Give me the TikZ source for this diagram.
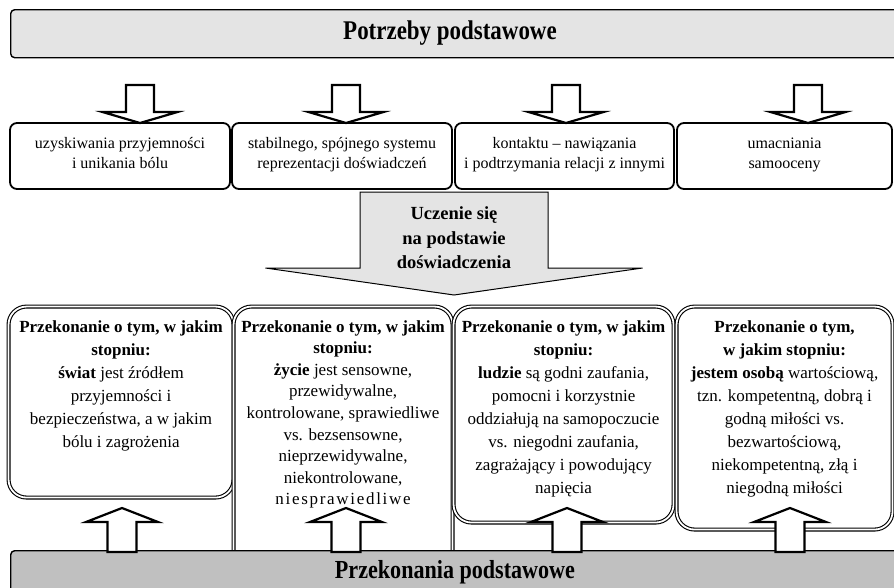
\documentclass[tikz,border=0pt]{standalone}
\usepackage{fontspec}
\setmainfont{Liberation Serif}
\newfontfamily\headfont[FakeStretch=0.85]{Liberation Serif}
\usetikzlibrary{positioning}

\definecolor{barlight}{HTML}{E4E4E4}
\definecolor{bardark}{HTML}{C0C0C0}

% [style]{x}{tail y}{wing y}{tip y}{half shaft}{half head}
\newcommand{\blockarrow}[7][]{%
	\draw[#1] ({#2-#6},#3) -- ({#2-#6},#4) -- ({#2-#7},#4) -- (#2,#5)
		-- ({#2+#7},#4) -- ({#2+#6},#4) -- ({#2+#6},#3) -- cycle;}

\tikzset{
	bar/.style={draw, line width=1.4pt, rounded corners=4pt, fill=#1, minimum width=900pt, anchor=north west},
	need/.style={draw, line width=1.8pt, rounded corners=7pt, fill=white, minimum height=66pt, align=center, font=\fontsize{16}{20}\selectfont, execute at begin node=\strut, execute at end node=\strut},
	belief/.style={draw, line width=1.1pt, double=white, double distance=1.8pt, rounded corners=18pt, fill=white, anchor=north west},
	belieftext/.style={align=center, inner sep=0pt, anchor=north},
	hollow/.style={draw, fill=white, line width=2.2pt}
}

\begin{document}
\begin{tikzpicture}[x=1pt, y=-1pt]
	\useasboundingbox (0,0) rectangle (894,587);

	\node[bar=barlight, minimum height=48pt] (needs) at (10,9) {};
	\node[font=\fontsize{27}{30}\headfont\bfseries] (needsT) at (450,33) {Potrzeby podstawowe};

	\node[need, minimum width=220pt] (n1) at (120,156) {uzyskiwania przyjemności\\i unikania bólu};
	\node[need, minimum width=220pt] (n2) at (342,156) {stabilnego, spójnego systemu\\reprezentacji doświadczeń};
	\node[need, minimum width=219pt] (n3) at (564.5,156) {kontaktu – nawiązania\\i podtrzymania relacji z innymi};
	\node[need, minimum width=215pt] (n4) at (784.5,156) {umacniania\\samooceny};

	\blockarrow[hollow]{140}{85}{112}{123}{14}{37.5}
	\blockarrow[hollow]{346}{85}{112}{123}{14}{37.5}
	\blockarrow[hollow]{566}{85}{112}{123}{14}{37.5}
	\blockarrow[hollow]{808}{85}{112}{123}{14}{37.5}

	\blockarrow[draw, fill=barlight, line width=1pt]{454}{192}{268}{295}{94}{188.5}
	\node[align=center, font=\fontsize{18.5}{24.5}\selectfont\bfseries] (learnT) at (454,238) {Uczenie się\\na podstawie\\doświadczenia};

	\node[belief, minimum width=225pt, minimum height=191pt] (b1) at (8,306) {};
	\node[belief, minimum width=219pt, minimum height=270pt] (b2) at (233,306) {};
	\node[belief, minimum width=220pt, minimum height=216pt] (b3) at (453,306) {};
	\node[belief, minimum width=216pt, minimum height=223pt] (b4) at (676,306) {};

	\node[belieftext, font=\fontsize{17}{23}\selectfont, below=14pt of b1.north] (b1T) {\textbf{Przekonanie o tym, w jakim}\\\textbf{stopniu:}\\\textbf{świat} jest źródłem\\przyjemności i\\bezpieczeństwa, a w jakim\\bólu i zagrożenia};
	\node[belieftext, font=\fontsize{17}{21.6}\selectfont, below=14pt of b2.north] (b2T) {\textbf{Przekonanie o tym, w jakim}\\\textbf{stopniu:}\\\textbf{życie} jest sensowne,\\przewidywalne,\\kontrolowane, sprawiedliwe\\vs. bezsensowne,\\nieprzewidywalne,\\niekontrolowane,\\{\addfontfeature{LetterSpace=10}niesprawiedliwe}};
	\node[belieftext, font=\fontsize{17}{23}\selectfont, below=14pt of b3.north] (b3T) {\textbf{Przekonanie o tym, w jakim}\\\textbf{stopniu:}\\\textbf{ludzie} są godni zaufania,\\pomocni i korzystnie\\oddziałują na samopoczucie\\vs. niegodni zaufania,\\zagrażający i powodujący\\napięcia};
	\node[belieftext, font=\fontsize{17}{23}\selectfont, below=14pt of b4.north] (b4T) {\textbf{Przekonanie o tym,}\\\textbf{w jakim stopniu:}\\\textbf{jestem osobą} wartościową,\\tzn. kompetentną, dobrą i\\godną miłości vs.\\bezwartościową,\\niekompetentną, złą i\\niegodną miłości};

	\node[bar=bardark, minimum height=60pt] (beliefs) at (10,550) {};
	\node[font=\fontsize{26}{30}\headfont\bfseries] (beliefsT) at (455,572) {Przekonania podstawowe};

	\blockarrow[hollow]{122}{552}{522}{508}{14.5}{36}
	\blockarrow[hollow]{346}{552}{522}{508}{14.5}{36}
	\blockarrow[hollow]{567}{552}{522}{508}{14.5}{36}
	\blockarrow[hollow]{790}{552}{522}{508}{14.5}{36}
\end{tikzpicture}
\end{document}
